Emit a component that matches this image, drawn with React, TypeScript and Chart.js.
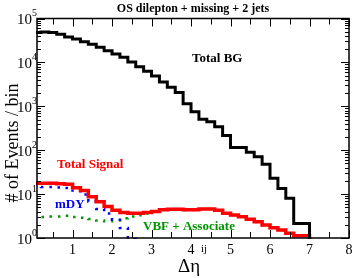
import React, { useEffect, useRef } from "react";
import { Chart, registerables } from "chart.js";

Chart.register(...registerables);

// Bin edges of the Δη^jj histogram (0.2 wide)
const binEdges = [
  0.0, 0.2, 0.4, 0.6, 0.8, 1.0, 1.2, 1.4, 1.6, 1.8, 2.0, 2.2, 2.4, 2.6, 2.8, 3.0, 3.2, 3.4,
  3.6, 3.8, 4.0, 4.2, 4.4, 4.6, 4.8, 5.0, 5.2, 5.4, 5.6, 5.8, 6.0, 6.2, 6.4, 6.6, 6.8, 7.0,
];

// Total background per bin
const totalBG = [
  46000, 48000, 49000, 48000, 44000, 38000, 34000, 29700, 25800, 22000, 18500, 15500, 13100,
  10200, 8000, 6300, 4900, 3600, 2700, 2050, 1150, 750, 505, 445, 343, 215, 115, 115, 90, 71,
  48, 23, 13.5, 8, 2.15,
];

// Total signal per bin
const totalSignal = [
  18.2, 17.6, 17.6, 17.6, 17.3, 16.7, 14, 12, 8.7, 6.7, 5.2, 4.3, 3.8, 3.65, 3.65, 3.8, 4.0,
  4.4, 4.5, 4.5, 4.4, 4.4, 4.6, 4.6, 4.3, 3.65, 3.35, 3.06, 2.66, 2.35, 1.98, 1.72, 1.52, 1.28,
  1.13,
];

// mDY per bin (first 16 bins, the rest is below the axis)
const mDY = [15, 14.8, 14.5, 14.5, 14.2, 13.8, 12, 9.8, 6.8, 4.6, 3.6, 2.6, 1.7, 0.95, 0.5, 0.3];

// VBF + Associate per bin
const vbfAssoc = [
  3.0, 3.0, 3.0, 3.1, 3.1, 3.2, 3.0, 2.9, 2.7, 2.5, 2.4, 2.5, 2.8, 3.1, 3.3, 3.6, 3.95, 4.35,
  4.45, 4.45, 4.35, 4.35, 4.55, 4.55, 4.25, 3.6, 3.3, 3.0, 2.62, 2.32, 1.95, 1.7, 1.5, 1.26,
  1.12,
];

const xTickValues = [1, 2, 3, 4, 5, 6, 7, 8];
const xTickLabels = ["1", "2", "3", "4", "5", "6", "7", "8"];
const yDecades = [0, 1, 2, 3, 4, 5];
const yExponentLabels = ["0", "1", "2", "3", "4", "5"];

const GREEN = "rgb(0,150,0)";
const SERIF = "'Liberation Serif', 'DejaVu Serif', serif";

function histPoints(values: number[]) {
  const pts: { x: number; y: number }[] = [];
  values.forEach((v, i) => pts.push({ x: binEdges[i], y: v }));
  const last = values.length;
  pts.push({ x: binEdges[last], y: values[last - 1] });
  pts.push({ x: binEdges[last], y: 0.01 });
  return pts;
}

const framePlugin = {
  id: "frameTicks",
  afterDatasetsDraw(chart: any) {
    const { ctx, chartArea: a, scales } = chart;
    const xs = scales.x;
    const ys = scales.y;
    ctx.save();
    ctx.strokeStyle = "#000";
    ctx.fillStyle = "#000";
    ctx.lineWidth = 1.5;
    ctx.strokeRect(a.left, a.top, a.right - a.left, a.bottom - a.top);
    ctx.lineWidth = 1;
    for (let k = 1; k <= 16; k++) {
      const v = k * 0.5;
      const px = Math.round(xs.getPixelForValue(v)) + 0.5;
      if (px < a.left || px > a.right + 1) continue;
      const len = k % 2 === 0 ? 8 : 6;
      ctx.beginPath();
      ctx.moveTo(px, a.bottom);
      ctx.lineTo(px, a.bottom - len);
      ctx.moveTo(px, a.top);
      ctx.lineTo(px, a.top + len);
      ctx.stroke();
    }
    for (let d = 0; d <= 5; d++) {
      for (let m = 1; m <= 9; m++) {
        const v = m * Math.pow(10, d);
        if (v > 1e5) continue;
        const py = Math.round(ys.getPixelForValue(v)) + 0.5;
        const len = m === 1 ? 8 : 4;
        ctx.beginPath();
        ctx.moveTo(a.left, py);
        ctx.lineTo(a.left + len, py);
        ctx.moveTo(a.right, py);
        ctx.lineTo(a.right - len, py);
        ctx.stroke();
      }
    }
    ctx.font = `14px ${SERIF}`;
    ctx.textAlign = "center";
    ctx.textBaseline = "middle";
    xTickValues.forEach((v, i) => {
      ctx.fillText(xTickLabels[i], xs.getPixelForValue(v), a.bottom + 12);
    });
    yDecades.forEach((d, i) => {
      const py = ys.getPixelForValue(Math.pow(10, d));
      ctx.font = `15px ${SERIF}`;
      ctx.textAlign = "right";
      ctx.textBaseline = "middle";
      ctx.fillText("10", a.left - 5, py + 2);
      ctx.font = `10px ${SERIF}`;
      ctx.textAlign = "left";
      ctx.fillText(yExponentLabels[i], a.left - 5, py - 5);
    });
    ctx.font = `bold 12px ${SERIF}`;
    ctx.textAlign = "center";
    ctx.textBaseline = "alphabetic";
    ctx.fillText("OS dilepton + missing + 2 jets", 193, 12);
    ctx.save();
    ctx.translate(13, 143);
    ctx.rotate(-Math.PI / 2);
    ctx.font = `18px ${SERIF}`;
    ctx.textAlign = "center";
    ctx.textBaseline = "middle";
    ctx.fillText("# of Events / bin", 0, 0);
    ctx.restore();
    ctx.font = `19px ${SERIF}`;
    ctx.textAlign = "left";
    ctx.textBaseline = "alphabetic";
    ctx.fillText("Δη", 178, 272);
    ctx.font = `11px ${SERIF}`;
    ctx.fillText("ij", 201, 252);
    ctx.font = `bold 13px ${SERIF}`;
    ctx.fillStyle = "#000";
    ctx.fillText("Total BG", 192, 62);
    ctx.fillStyle = "#ff0000";
    ctx.fillText("Total Signal", 57, 168);
    ctx.fillStyle = "#0000ff";
    ctx.fillText("mDY", 55, 208);
    ctx.fillStyle = GREEN;
    ctx.fillText("VBF + Associate", 143, 230);
    ctx.restore();
  },
};

export default function App() {
  const ref = useRef<HTMLCanvasElement | null>(null);
  useEffect(() => {
    if (!ref.current) return;
    const chart = new Chart(ref.current, {
      type: "line",
      data: {
        datasets: [
          {
            label: "Total BG",
            data: histPoints(totalBG),
            borderColor: "#000",
            borderWidth: 3,
            stepped: "after",
            pointRadius: 0,
            fill: false,
            clip: 1,
          },
          {
            label: "Total Signal",
            data: histPoints(totalSignal),
            borderColor: "#ff0000",
            borderWidth: 3.5,
            stepped: "after",
            pointRadius: 0,
            fill: false,
            clip: 1,
          },
          {
            label: "mDY",
            data: histPoints(mDY),
            borderColor: "#0000ff",
            borderWidth: 2.5,
            borderDash: [2.5, 6],
            stepped: "after",
            pointRadius: 0,
            fill: false,
            clip: 1,
          },
          {
            label: "VBF + Associate",
            data: histPoints(vbfAssoc),
            borderColor: GREEN,
            borderWidth: 2.5,
            borderDash: [2.5, 6],
            stepped: "after",
            pointRadius: 0,
            fill: false,
            clip: 1,
          },
        ],
      },
      options: {
        animation: false,
        responsive: false,
        devicePixelRatio: 1,
        parsing: false as any,
        layout: { padding: { left: 37, right: 5, top: 18.5, bottom: 40 } },
        plugins: { legend: { display: false }, tooltip: { enabled: false }, title: { display: false } },
        scales: {
          x: { type: "linear", min: 0.1, max: 8, display: false },
          y: { type: "logarithmic", min: 1, max: 100000, display: false },
        },
      },
      plugins: [framePlugin],
    });
    return () => chart.destroy();
  }, []);
  return (
    <div style={{ position: "fixed", left: 0, top: 0, width: 354, height: 278, background: "#fff" }}>
      <canvas ref={ref} width={354} height={278} style={{ display: "block" }} />
    </div>
  );
}
